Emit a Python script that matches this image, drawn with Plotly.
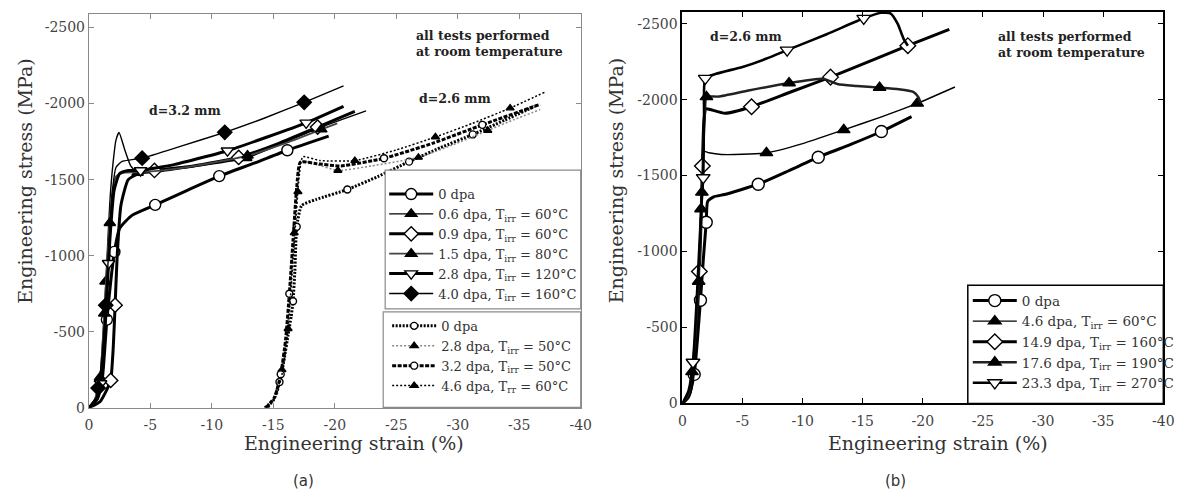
import plotly.graph_objects as go

W, H = 1200, 497

# ---------------- Panel (a): d = 3.2 mm (solid lines) ----------------
a32_0_x = [0, -0.7, -1.1, -1.46, -1.8, -2.07, -2.5, -3.5, -5.39, -8.0, -10.6, -13.5, -16.14, -19.5]
a32_0_y = [0, -60, -200, -580, -850, -1025, -1180, -1265, -1334, -1430, -1523, -1610, -1693, -1786]
a32_0_mx = [-1.46, -2.07, -5.39, -10.6, -16.14]
a32_0_my = [-580, -1025, -1334, -1523, -1693]

a32_06_x = [0, -0.5, -0.9, -1.2, -1.45, -1.7, -1.95, -2.2, -2.45, -2.9, -3.4, -3.96, -6.0, -9.0, -12.8, -15.5, -18.52, -22.54]
a32_06_y = [0, -60, -200, -550, -950, -1350, -1600, -1760, -1810, -1700, -1590, -1545, -1555, -1590, -1642, -1730, -1834, -1952]
a32_06_mx = [-0.9, -1.35, -3.96, -12.8, -18.52]
a32_06_my = [-200, -830, -1545, -1642, -1834]

a32_09_x = [0, -0.9, -1.4, -1.77, -1.98, -2.13, -2.3, -2.6, -3.2, -4.2, -5.33, -8.5, -12.18, -15.5, -18.6, -21.63]
a32_09_y = [0, -40, -110, -180, -400, -675, -1000, -1330, -1500, -1545, -1560, -1590, -1646, -1740, -1845, -1948]
a32_09_mx = [-1.77, -2.13, -5.33, -12.18, -18.6]
a32_09_my = [-180, -675, -1560, -1646, -1845]

a32_15_x = [0, -0.5, -0.9, -1.25, -1.55, -1.85, -2.2, -2.8, -4.0, -7.0, -10.0, -12.9, -16.0, -18.9, -20.2]
a32_15_y = [0, -60, -190, -620, -1050, -1380, -1520, -1545, -1548, -1570, -1610, -1658, -1740, -1830, -1870]
a32_15_mx = [-0.9, -1.25, -1.7, -12.9, -18.9]
a32_15_my = [-190, -620, -1215, -1658, -1830]

a32_28_x = [0, -0.7, -1.1, -1.4, -1.7, -2.05, -2.5, -3.2, -4.2, -7.0, -11.27, -14.5, -17.67, -20.71]
a32_28_y = [0, -70, -250, -650, -1100, -1430, -1540, -1560, -1560, -1600, -1690, -1780, -1873, -1981]
a32_28_mx = [-0.95, -1.6, -4.2, -11.27, -17.67]
a32_28_my = [-160, -950, -1560, -1690, -1873]

a32_40_x = [0, -0.6, -1.0, -1.37, -1.65, -1.9, -2.2, -2.7, -3.4, -4.33, -7.5, -11.05, -14.3, -17.51, -20.71]
a32_40_y = [0, -70, -280, -675, -1100, -1420, -1580, -1620, -1630, -1641, -1720, -1811, -1905, -2008, -2116]
a32_40_mx = [-0.75, -1.37, -4.33, -11.05, -17.51]
a32_40_my = [-130, -675, -1641, -1811, -2008]

# ---------------- Panel (a): d = 2.6 mm (dotted lines) ----------------
a26_0_x = [-14.3, -15.0, -15.5, -15.9, -16.2, -16.45, -16.6, -16.75, -16.9, -17.3, -18.5, -21.02, -23.5, -26.04, -28.6, -31.22, -33.8, -36.25]
a26_0_y = [0, -50, -170, -330, -480, -600, -700, -900, -1190, -1330, -1370, -1435, -1520, -1618, -1710, -1797, -1890, -1981]
a26_0_mx = [-15.5, -16.6, -16.9, -21.02, -26.04, -31.22]
a26_0_my = [-170, -700, -1190, -1435, -1618, -1797]

a26_28_x = [-14.5, -15.2, -15.7, -16.1, -16.4, -16.7, -17.0, -17.3, -18.5, -20.25, -23.0, -26.8, -29.5, -32.44, -34.6, -36.7]
a26_28_y = [0, -80, -250, -500, -800, -1150, -1500, -1620, -1600, -1560, -1590, -1646, -1725, -1823, -1895, -1960]
a26_28_mx = [-15.7, -16.7, -20.25, -26.8, -32.44]
a26_28_my = [-250, -1150, -1560, -1646, -1823]

a26_32_x = [-14.4, -15.1, -15.6, -16.0, -16.3, -16.6, -16.9, -17.2, -18.5, -20.5, -24.0, -28.0, -32.0, -36.7]
a26_32_y = [0, -70, -220, -450, -750, -1100, -1450, -1615, -1605, -1590, -1640, -1740, -1860, -1995]
a26_32_mx = [-15.6, -16.3, -24.0, -32.0]
a26_32_my = [-220, -750, -1640, -1860]

a26_46_x = [-14.6, -15.3, -15.8, -16.2, -16.5, -16.8, -17.1, -17.4, -18.8, -21.63, -25.0, -28.18, -31.2, -34.26, -37.16]
a26_46_y = [0, -90, -260, -520, -850, -1200, -1520, -1650, -1625, -1625, -1695, -1780, -1870, -1970, -2078]
a26_46_mx = [-16.2, -17.0, -21.63, -28.18, -34.26]
a26_46_my = [-520, -1420, -1625, -1780, -1970]

# ---------------- Panel (b): d = 2.6 mm ----------------
b_0_x = [0, -0.5, -0.98, -1.25, -1.5, -1.75, -1.98, -2.1, -2.6, -3.5, -6.31, -8.8, -11.3, -14.0, -16.55, -19.06]
b_0_y = [0, -40, -191, -420, -679, -960, -1193, -1330, -1360, -1375, -1443, -1530, -1621, -1705, -1790, -1888]
b_0_mx = [-0.98, -1.5, -1.98, -6.31, -11.3, -16.55]
b_0_my = [-191, -679, -1193, -1443, -1621, -1790]

b_46_x = [0, -0.5, -0.9, -1.15, -1.35, -1.5, -1.62, -1.72, -2.2, -3.23, -5.0, -6.99, -10.0, -13.42, -16.5, -19.53, -22.67]
b_46_y = [0, -50, -200, -480, -800, -1150, -1450, -1660, -1650, -1639, -1640, -1649, -1710, -1801, -1885, -1975, -2083]
b_46_mx = [-1.55, -6.99, -13.42, -19.53]
b_46_my = [-1280, -1649, -1801, -1975]

b_149_x = [0, -0.6, -1.0, -1.2, -1.41, -1.55, -1.66, -1.78, -1.95, -2.3, -3.55, -5.75, -9.0, -12.32, -15.5, -18.75, -22.2]
b_149_y = [0, -60, -250, -520, -868, -1200, -1563, -1850, -1940, -1935, -1910, -1953, -2050, -2148, -2250, -2355, -2463]
b_149_mx = [-1.41, -1.66, -5.75, -12.32, -18.75]
b_149_my = [-868, -1563, -1953, -2148, -2355]

b_176_x = [0, -0.5, -0.8, -1.1, -1.35, -1.5, -1.62, -1.75, -1.88, -2.0, -3.0, -5.5, -8.87, -11.7, -12.94, -14.5, -16.4, -18.0, -19.2, -19.6, -19.85]
b_176_y = [0, -60, -208, -480, -803, -1100, -1389, -1700, -1930, -2018, -2020, -2060, -2109, -2137, -2101, -2090, -2079, -2068, -2051, -2020, -1975]
b_176_mx = [-0.8, -1.35, -1.62, -2.0, -8.87, -16.4]
b_176_my = [-208, -803, -1389, -2018, -2109, -2079]

b_233_x = [0, -0.5, -0.88, -1.2, -1.45, -1.6, -1.73, -1.8, -1.9, -2.8, -5.0, -7.0, -8.71, -12.0, -15.08, -16.5, -17.3, -17.9, -18.4, -18.75]
b_233_y = [0, -80, -271, -700, -1100, -1330, -1486, -1900, -2140, -2170, -2215, -2270, -2326, -2430, -2535, -2572, -2568, -2500, -2400, -2355]
b_233_mx = [-0.88, -1.73, -1.9, -8.71, -15.08]
b_233_my = [-271, -1486, -2140, -2326, -2535]

# ---------------- Labels ----------------
x_tickvals = [0, -5, -10, -15, -20, -25, -30, -35, -40]
x_ticktext = ["0", "-5", "-10", "-15", "-20", "-25", "-30", "-35", "-40"]
y_tickvals = [0, -500, -1000, -1500, -2000, -2500]
y_ticktext = ["0", "-500", "-1000", "-1500", "-2000", "-2500"]

SERIF = "DejaVu Serif"
fig = go.Figure()


def add_series(x, y, mx, my, name, legend, xa, ya, lw, color, dash, sym, mfill, msize, shape="spline"):
    fig.add_trace(go.Scatter(x=x, y=y, mode="lines", xaxis=xa, yaxis=ya, showlegend=False,
                             line=dict(color=color, width=lw, dash=dash, shape=shape, smoothing=0.5),
                             hoverinfo="skip"))
    mk = dict(symbol=sym, size=msize, color=mfill, line=dict(color="black", width=1.4))
    fig.add_trace(go.Scatter(x=mx, y=my, mode="markers", xaxis=xa, yaxis=ya, showlegend=False,
                             marker=mk, hoverinfo="skip"))
    fig.add_trace(go.Scatter(x=[None], y=[None], mode="lines+markers", xaxis=xa, yaxis=ya,
                             name=name, legend=legend, showlegend=True,
                             line=dict(color=color, width=lw, dash=dash), marker=mk))


T = "T<sub>irr</sub>"
# panel (a) 3.2 mm
add_series(a32_0_x, a32_0_y, a32_0_mx, a32_0_my, "0 dpa", "legend", "x", "y", 3, "black", "solid", "circle", "white", 11)
add_series(a32_06_x, a32_06_y, a32_06_mx, a32_06_my, f"0.6 dpa, {T} = 60°C", "legend", "x", "y", 1.4, "black", "solid", "triangle-up", "black", 10)
add_series(a32_09_x, a32_09_y, a32_09_mx, a32_09_my, f"0.9 dpa, {T} = 60°C", "legend", "x", "y", 3, "black", "solid", "diamond", "white", 11)
add_series(a32_15_x, a32_15_y, a32_15_mx, a32_15_my, f"1.5 dpa, {T} = 80°C", "legend", "x", "y", 1.8, "#444444", "solid", "triangle-up", "black", 10)
add_series(a32_28_x, a32_28_y, a32_28_mx, a32_28_my, f"2.8 dpa, {T} = 120°C", "legend", "x", "y", 3, "black", "solid", "triangle-down", "white", 11)
add_series(a32_40_x, a32_40_y, a32_40_mx, a32_40_my, f"4.0 dpa, {T} = 160°C", "legend", "x", "y", 1.4, "black", "solid", "diamond", "black", 11)
# panel (a) 2.6 mm
add_series(a26_0_x, a26_0_y, a26_0_mx, a26_0_my, "0 dpa", "legend2", "x", "y", 3, "black", "2px,1.5px", "circle", "white", 7)
add_series(a26_28_x, a26_28_y, a26_28_mx, a26_28_my, f"2.8 dpa, {T} = 50°C", "legend2", "x", "y", 1.5, "#888888", "2px,2px", "triangle-up", "black", 7)
add_series(a26_32_x, a26_32_y, a26_32_mx, a26_32_my, f"3.2 dpa, {T} = 50°C", "legend2", "x", "y", 3, "black", "4px,1.5px", "circle", "white", 7)
add_series(a26_46_x, a26_46_y, a26_46_mx, a26_46_my, "4.6 dpa, T<sub>rr</sub> = 60°C", "legend2", "x", "y", 1.5, "black", "2px,2px", "triangle-up", "black", 7)
# panel (b)
add_series(b_0_x, b_0_y, b_0_mx, b_0_my, "0 dpa", "legend3", "x2", "y2", 3, "black", "solid", "circle", "white", 12)
add_series(b_46_x, b_46_y, b_46_mx, b_46_my, f"4.6 dpa, {T} = 60°C", "legend3", "x2", "y2", 1.4, "black", "solid", "triangle-up", "black", 11)
add_series(b_149_x, b_149_y, b_149_mx, b_149_my, f"14.9 dpa, {T} = 160°C", "legend3", "x2", "y2", 3, "black", "solid", "diamond", "white", 12)
add_series(b_176_x, b_176_y, b_176_mx, b_176_my, f"17.6 dpa, {T} = 190°C", "legend3", "x2", "y2", 2.4, "#222222", "solid", "triangle-up", "black", 11)
add_series(b_233_x, b_233_y, b_233_mx, b_233_my, f"23.3 dpa, {T} = 270°C", "legend3", "x2", "y2", 2.6, "black", "solid", "triangle-down", "white", 12)


def px_x(p):
    return p / W


def px_y(p):
    return 1 - p / H


axis_common = dict(showgrid=False, zeroline=False, ticks="inside", ticklen=5, mirror="ticks",
                   showline=True, tickfont=dict(family=SERIF, size=14, color="#444444"))

fig.update_layout(
    width=W, height=H, margin=dict(l=0, r=0, t=0, b=0),
    paper_bgcolor="white", plot_bgcolor="white",
    xaxis=dict(domain=[px_x(86), px_x(584)], range=[0, -40], anchor="y",
               tickvals=x_tickvals, ticktext=x_ticktext, linecolor="#8a8a8a", tickcolor="#8a8a8a",
               linewidth=1.2, ticklabelstandoff=4, **axis_common),
    yaxis=dict(domain=[px_y(414.5), px_y(14)], range=[0, -2590], anchor="x",
               tickvals=y_tickvals, ticktext=y_ticktext, linecolor="#8a8a8a", tickcolor="#8a8a8a",
               linewidth=1.2, **axis_common),
    xaxis2=dict(domain=[px_x(687), px_x(1174)], range=[0, -40], anchor="y2",
                tickvals=x_tickvals, ticktext=x_ticktext, linecolor="black", tickcolor="black",
                linewidth=2, ticklabelstandoff=4, **axis_common),
    yaxis2=dict(domain=[px_y(410), px_y(12)], range=[0, -2578], anchor="x2",
                tickvals=y_tickvals, ticktext=y_ticktext, linecolor="black", tickcolor="black",
                linewidth=2, **axis_common),
    legend=dict(x=px_x(385), y=px_y(182), xanchor="left", yanchor="top", bgcolor="rgba(0,0,0,0)",
                font=dict(family=SERIF, size=13, color="#333333"), itemwidth=44, borderwidth=0),
    legend2=dict(x=px_x(388), y=px_y(316), xanchor="left", yanchor="top", bgcolor="rgba(0,0,0,0)",
                 font=dict(family=SERIF, size=13, color="#333333"), itemwidth=44, borderwidth=0),
    legend3=dict(x=px_x(976), y=px_y(290), xanchor="left", yanchor="top", bgcolor="rgba(0,0,0,0)",
                 font=dict(family=SERIF, size=13.5, color="#333333"), itemwidth=44, borderwidth=0),
)

# legend frames
for (x0, x1, y0, y1, col, lw) in [(386, 584, 173, 314, "#8a8a8a", 1.2), (384, 584, 317, 414, "#8a8a8a", 1.2),
                                  (976, 1174, 290, 410, "black", 1.5)]:
    fig.add_shape(type="rect", xref="paper", yref="paper", x0=px_x(x0), x1=px_x(x1), y0=px_y(y1), y1=px_y(y0),
                  line=dict(color=col, width=lw), fillcolor="white", layer="above")

ann = []


def add_text(x, y, text, size, family=SERIF, angle=0, xanchor="center", align="center", color="#222222"):
    ann.append(dict(x=px_x(x), y=px_y(y), xref="paper", yref="paper", text=text, showarrow=False,
                    xanchor=xanchor, yanchor="middle", align=align, textangle=angle,
                    font=dict(family=family, size=size, color=color)))


add_text(415, 44, "<b>all tests performed<br>at room temperature</b>", 12.5, xanchor="left", align="left")
add_text(1005, 45, "<b>all tests performed<br>at room temperature</b>", 12.5, xanchor="left", align="left")
add_text(183, 112, "<b>d=3.2 mm</b>", 12.5)
add_text(457, 100, "<b>d=2.6 mm</b>", 12.5)
add_text(751, 37, "<b>d=2.6 mm</b>", 12.5)
add_text(354, 450, "Engineering strain (%)", 19, color="#333333")
add_text(946, 450, "Engineering strain (%)", 19, color="#333333")
add_text(21, 184, "Engineering stress (MPa)", 19, angle=-90, color="#333333")
add_text(620, 184, "Engineering stress (MPa)", 19, angle=-90, color="#333333")
add_text(303, 489, "(a)", 15, family="DejaVu Sans", color="#333333")
add_text(903, 489, "(b)", 15, family="DejaVu Sans", color="#333333")
fig.update_layout(annotations=ann)

fig.write_html("out.html")
